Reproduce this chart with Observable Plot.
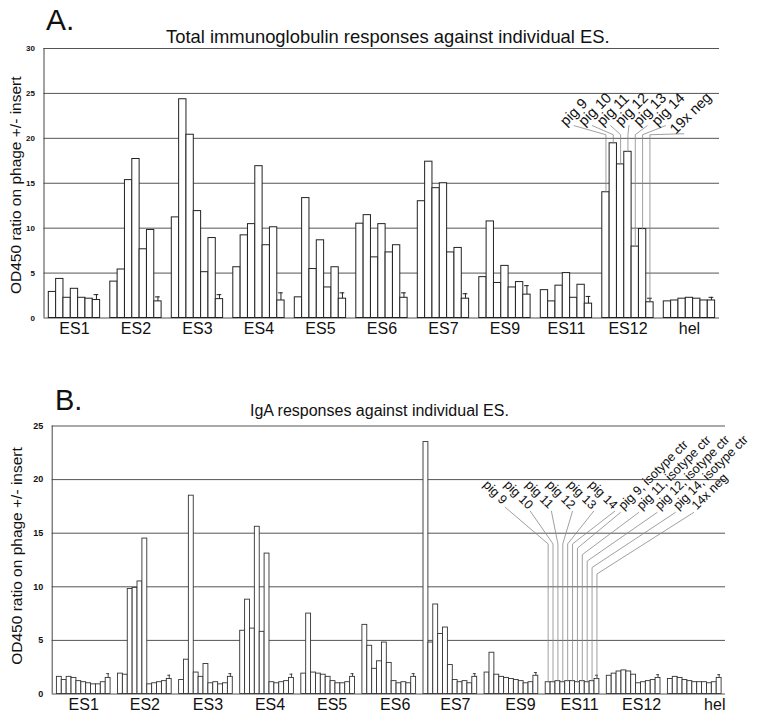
<!DOCTYPE html>
<html><head><meta charset="utf-8">
<script src="https://cdn.jsdelivr.net/npm/d3@7"></script>
<script src="https://cdn.jsdelivr.net/npm/@observablehq/plot@0.6"></script>
<style>
body{margin:0;background:#fff;font-family:"Liberation Sans",Arial,sans-serif;}
#wrap{position:relative;width:761px;height:722px;overflow:hidden;background:#fff;}
.t{position:absolute;white-space:nowrap;line-height:1;color:#111;z-index:2;}
.panel{position:absolute;left:0;z-index:1;}
.panel svg{overflow:visible;}
</style></head><body>
<div id="wrap">
 <div id="pa" class="panel" style="top:0"></div>
 <div id="pb" class="panel" style="top:345px"></div>
 <div class="t" style="left:46px;top:4.6px;font-size:30px">A.</div>
 <div class="t" style="left:166px;top:27.8px;font-size:18.4px">Total immunoglobulin responses against individual ES.</div>
 <div class="t" style="left:55px;top:385.5px;font-size:29px">B.</div>
 <div class="t" style="left:250px;top:403px;font-size:16px">IgA responses against individual ES.</div>
</div>
<script>
// ---------- data ----------
const groups = ["ES1","ES2","ES3","ES4","ES5","ES6","ES7","ES9","ES11","ES12","hel"];
const seriesA = ["pig 9","pig 10","pig 11","pig 12","pig 13","pig 14","19x neg"];
const seriesB = ["pig 9","pig 10","pig 11","pig 12","pig 13","pig 14",
  "pig 9, isotype ctr","pig 11, isotype ctr","pig 12, isotype ctr","pig 14, isotype ctr","14x neg"];

// Panel A: total immunoglobulin (OD450 ratio), one array per ES
const totalES1  = [2.9, 4.35, 2.25, 3.25, 2.25, 2.15, 2.0];
const totalES2  = [4.05, 5.4, 15.35, 17.7, 7.65, 9.8, 1.85];
const totalES3  = [11.2, 24.35, 20.4, 11.9, 5.1, 8.9, 2.1];
const totalES4  = [5.65, 9.2, 10.45, 16.9, 8.1, 10.1, 1.95];
const totalES5  = [2.3, 13.35, 5.45, 8.65, 3.4, 5.65, 2.15];
const totalES6  = [10.5, 11.45, 6.75, 10.45, 7.3, 8.1, 2.25];
const totalES7  = [13.0, 17.4, 14.45, 15.0, 7.3, 7.8, 2.15];
const totalES9  = [4.55, 10.75, 3.9, 5.8, 3.4, 4.0, 2.6];
const totalES11 = [3.1, 1.85, 3.6, 5.0, 2.25, 3.7, 1.6];
const totalES12 = [14.0, 19.45, 17.1, 18.5, 7.95, 9.9, 1.75];
const totalHel  = [1.85, 1.95, 2.15, 2.25, 2.15, 1.95, 1.95];
const totalNegError = [0.6, 0.5, 0.5, 0.85, 0.65, 0.55, 0.55, 1.0, 0.8, 0.45, 0.35];

// Panel B: IgA (OD450 ratio), one array per ES
const igaES1  = [1.6, 1.3, 1.6, 1.5, 1.2, 1.1, 1.0, 0.9, 0.9, 1.1, 1.5];
const igaES2  = [1.9, 1.8, 9.8, 9.9, 10.5, 14.5, 0.9, 1.0, 1.1, 1.2, 1.4];
const igaES3  = [1.3, 3.2, 18.5, 2.0, 1.6, 2.8, 1.0, 1.1, 0.9, 1.0, 1.6];
const igaES4  = [5.9, 8.8, 6.1, 15.6, 5.8, 13.1, 1.1, 1.0, 1.1, 1.2, 1.5];
const igaES5  = [1.9, 7.5, 2.0, 1.9, 1.8, 1.6, 1.2, 1.0, 1.0, 1.1, 1.6];
const igaES6  = [6.45, 4.5, 2.35, 3.05, 4.8, 2.9, 1.2, 1.0, 1.1, 1.0, 1.6];
const igaES7  = [23.5, 4.8, 8.35, 5.6, 6.2, 2.7, 1.3, 1.1, 1.2, 1.0, 1.6];
const igaES9  = [2.0, 3.85, 1.8, 1.6, 1.5, 1.4, 1.3, 1.2, 1.0, 1.1, 1.7];
const igaES11 = [1.1, 1.1, 1.2, 1.1, 1.2, 1.2, 1.1, 1.2, 1.1, 1.2, 1.4];
const igaES12 = [1.7, 1.9, 2.1, 2.2, 2.1, 1.8, 1.0, 1.1, 1.2, 1.3, 1.5];
const igaHel  = [1.4, 1.6, 1.5, 1.3, 1.2, 1.1, 1.1, 1.1, 1.0, 1.1, 1.5];
const igaNegError = [0.4, 0.35, 0.3, 0.35, 0.3, 0.3, 0.3, 0.3, 0.35, 0.3, 0.3];

const yTicksA = [0, 5, 10, 15, 20, 25, 30];
const yTicksB = [0, 5, 10, 15, 20, 25];
const yTitle = "OD450 ratio on phage +/- insert";

// ---------- layout constants (not data) ----------
// hand-placed category labels in panel B drift right of the group centres (px)
const labelDriftB = [0, 0, 2, 3, 4, 6, 5, 9, 7, 8, 20];

// ---------- helpers ----------
const totalLists = [totalES1,totalES2,totalES3,totalES4,totalES5,totalES6,totalES7,totalES9,totalES11,totalES12,totalHel];
const igaLists = [igaES1,igaES2,igaES3,igaES4,igaES5,igaES6,igaES7,igaES9,igaES11,igaES12,igaHel];

function buildRows(lists, series, stride) {
  const rows = [];
  lists.forEach((vals, g) => vals.forEach((v, b) => rows.push({
    group: groups[g], series: series[b], x1: g * stride + b, x2: g * stride + b + 1, value: v
  })));
  return rows;
}
function buildErr(lists, errs, stride, nb, cap) {
  return lists.map((vals, g) => {
    const c = g * stride + nb - 0.5, v = vals[nb - 1];
    return {c, c1: c - cap, c2: c + cap, lo: v, hi: v + errs[g]};
  });
}

// ---------- panel A ----------
{
  const stride = 8.39, nb = 7;
  const pxU = 7.33, pxV = 8.983;          // pixels per data unit (for annotation offsets)
  const rows = buildRows(totalLists, seriesA, stride);
  const err = buildErr(totalLists, totalNegError, stride, nb, 0.32);
  const labels = groups.map((g, i) => ({x: i * stride + nb / 2, y: 0, text: g}));
  const gi = groups.indexOf("ES12");
  const ann = seriesA.map((s, i) => {
    const c = gi * stride + i + 0.5;
    const lx = c + (-7 + 10.96 * (i - 3)) / pxU;
    const ly = 21.3 - (i === 6 ? 0.9 : 0);
    return {text: s, c, lx, ly, top: totalLists[gi][i]};
  });
  const leaders = ann.flatMap((a, i) => [
    {k: i, x: a.lx + 8 / pxU, y: a.ly + 1 / pxV},
    {k: i, x: a.c, y: 20.4},
    {k: i, x: a.c, y: a.top}
  ]);
  const xDom = [-0.655, 91.5];
  const chart = Plot.plot({
    width: 761, height: 345,
    marginLeft: 43.5, marginRight: 42, marginTop: 48, marginBottom: 27.5,
    x: {domain: xDom, axis: null},
    y: {domain: [0, 30], axis: null},
    style: {background: "transparent", overflow: "visible", fontFamily: "Liberation Sans, Arial, sans-serif", color: "#111"},
    marks: [
      Plot.ruleY(yTicksA, {stroke: "#555", strokeWidth: 1}),
      Plot.ruleX([xDom[0]], {stroke: "#444", strokeWidth: 1}),
      Plot.rect(rows, {x1: "x1", x2: "x2", y1: 0, y2: "value", fill: "white", stroke: "#222", strokeWidth: 1}),
      Plot.ruleX(err, {x: "c", y1: "lo", y2: "hi", stroke: "#222", strokeWidth: 1}),
      Plot.ruleY(err, {y: "hi", x1: "c1", x2: "c2", stroke: "#222", strokeWidth: 1}),
      Plot.line(leaders, {x: "x", y: "y", z: "k", stroke: "#888", strokeWidth: 0.8}),
      Plot.text(ann, {x: "lx", y: "ly", text: "text", rotate: -45, textAnchor: "start", lineAnchor: "bottom", fontSize: 14.5, fill: "#111"}),
      Plot.text(yTicksA, {x: xDom[0], y: d => d, text: d => String(d), dx: -9, textAnchor: "end", fontSize: 8, fontWeight: "bold", fill: "#111"}),
      Plot.text(labels, {x: "x", y: "y", text: "text", lineAnchor: "top", dy: 4.5, fontSize: 16, fill: "#111"}),
      Plot.text([yTitle], {frameAnchor: "left", rotate: -90, textAnchor: "middle", lineAnchor: "middle", dx: -27.5, dy: 2, fontSize: 15.5, fill: "#111"})
    ]
  });
  document.getElementById("pa").appendChild(chart);
}

// ---------- panel B ----------
{
  const stride = 12.52, nb = 11;
  const pxU = 4.88, pxV = 10.72;
  const rows = buildRows(igaLists, seriesB, stride);
  const err = buildErr(igaLists, igaNegError, stride, nb, 0.3);
  const labels = groups.map((g, i) => ({x: i * stride + nb / 2 + labelDriftB[i] / pxU, y: 0, text: g}));
  const gi = groups.indexOf("ES11");
  const pigAnn = [], isoAnn = [], leaders = [];
  seriesB.forEach((s, i) => {
    const c = gi * stride + i + 0.5;
    const top = igaLists[gi][i];
    if (i < 6) {
      const lx = c + (-65.7 + 16.22 * i) / pxU, ly = (693.5 - 485) / pxV;
      pigAnn.push({text: s, lx, ly});
      const d = s.length * 5.6 * 0.707;
      leaders.push({k: i, x: lx + (d + 3) / pxU, y: ly - (d + 2) / pxV});
      leaders.push({k: i, x: c, y: 14.0});
      leaders.push({k: i, x: c, y: top});
    } else {
      const j = i - 6;
      const lx = c + (46 + 13.42 * j) / pxU, ly = (693.5 - 510) / pxV;
      isoAnn.push({text: s, lx, ly});
      leaders.push({k: i, x: lx - 3 / pxU, y: ly - 2 / pxV});
      leaders.push({k: i, x: c, y: 13.6 - 0.6 * j});
      leaders.push({k: i, x: c, y: top});
    }
  });
  const xDom = [-0.963, 137.0];
  const chart = Plot.plot({
    width: 761, height: 377,
    marginLeft: 51.7, marginRight: 36, marginTop: 80.5, marginBottom: 28.5,
    x: {domain: xDom, axis: null},
    y: {domain: [0, 25], axis: null},
    style: {background: "transparent", overflow: "visible", fontFamily: "Liberation Sans, Arial, sans-serif", color: "#111"},
    marks: [
      Plot.ruleY(yTicksB, {stroke: "#555", strokeWidth: 1}),
      Plot.ruleX([xDom[0]], {stroke: "#444", strokeWidth: 1}),
      Plot.rect(rows, {x1: "x1", x2: "x2", y1: 0, y2: "value", fill: "white", stroke: "#333", strokeWidth: 0.9}),
      Plot.ruleX(err, {x: "c", y1: "lo", y2: "hi", stroke: "#333", strokeWidth: 0.9}),
      Plot.ruleY(err, {y: "hi", x1: "c1", x2: "c2", stroke: "#333", strokeWidth: 0.9}),
      Plot.line(leaders, {x: "x", y: "y", z: "k", stroke: "#888", strokeWidth: 0.8}),
      Plot.text(pigAnn, {x: "lx", y: "ly", text: "text", rotate: 45, textAnchor: "start", lineAnchor: "bottom", fontSize: 12.7, fill: "#111"}),
      Plot.text(isoAnn, {x: "lx", y: "ly", text: "text", rotate: -45, textAnchor: "start", lineAnchor: "bottom", fontSize: 12.7, fill: "#111"}),
      Plot.text(yTicksB, {x: xDom[0], y: d => d, text: d => String(d), dx: -9, textAnchor: "end", fontSize: 9, fontWeight: "bold", fill: "#111"}),
      Plot.text(labels, {x: "x", y: "y", text: "text", lineAnchor: "top", dy: 4.5, fontSize: 16, fill: "#111"}),
      Plot.text([yTitle], {frameAnchor: "left", rotate: -90, textAnchor: "middle", lineAnchor: "middle", dx: -35.2, dy: -4, fontSize: 15.5, fill: "#111"})
    ]
  });
  document.getElementById("pb").appendChild(chart);
}
</script>
</body></html>
